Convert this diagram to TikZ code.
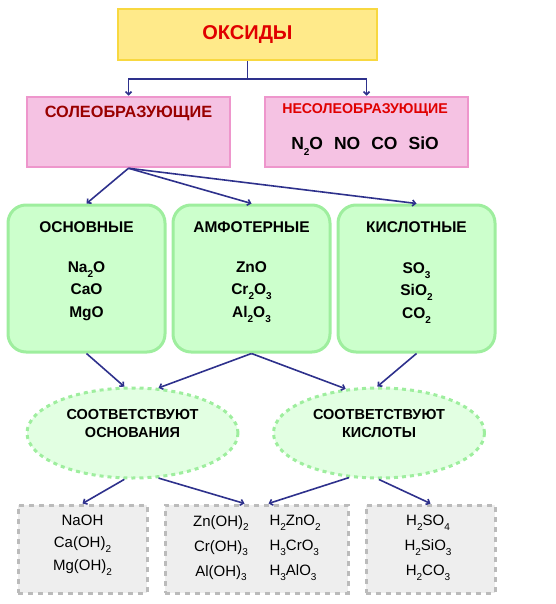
\documentclass[tikz,border=0pt]{standalone}
\usepackage{fontspec}
\setmainfont{Liberation Sans}
\usepackage{tikz}
\usetikzlibrary{arrows.meta,calc,shapes.geometric}
\usepackage{xcolor}
\definecolor{arrowblue}{HTML}{2E318C}
\definecolor{yellowbg}{HTML}{FFEA8A}
\definecolor{yellowline}{HTML}{F8D840}
\definecolor{pinkbg}{HTML}{F5C2E3}
\definecolor{pinkline}{HTML}{EE96CC}
\definecolor{greenbg}{HTML}{CCFFCC}
\definecolor{greenline}{HTML}{9EEE9E}
\definecolor{ovalbg}{HTML}{E2FFE2}
\definecolor{greybg}{HTML}{EEEEEE}
\definecolor{greyline}{HTML}{BBBBBB}
\definecolor{titlered}{HTML}{E00000}
\definecolor{darkred}{HTML}{990000}
\newcommand\ix[1]{\raisebox{-0.6ex}{\fontsize{10}{10}\selectfont #1}}

\begin{document}
\begin{tikzpicture}[x=1pt,y=-1pt,
  arr/.style={line width=1.6pt, arrowblue, -{Straight Barb[length=3pt,width=6pt]}},
  pinkbox/.style={draw=pinkline, fill=pinkbg, line width=2.5pt, minimum width=203pt, minimum height=70pt},
  greenbox/.style={draw=greenline, fill=greenbg, line width=3pt, rounded corners=18pt, minimum width=157pt, minimum height=147pt},
  oval/.style={ellipse, draw=greenline, fill=ovalbg, line width=3pt, dash pattern=on 4pt off 4pt, minimum width=211pt, minimum height=90pt},
  greybox/.style={draw=greyline, fill=greybg, line width=3pt, dash pattern=on 5pt off 5pt, minimum height=88pt},
  bold/.style={font=\bfseries\fontsize{15.5}{22.5}\selectfont, align=center},
  plain/.style={font=\fontsize{15}{25}\selectfont, align=center}]
  \useasboundingbox (0,0) rectangle (555,604);
  % верхний уровень
  \node[draw=yellowline, fill=yellowbg, line width=2.5pt, minimum width=259pt, minimum height=51pt,
        font=\bfseries\fontsize{20}{20}\selectfont, text=titlered] (oks) at (247.5,34.5) {ОКСИДЫ};
  \node[pinkbox] (sol) at (128.5,132) {};
  \node[pinkbox] (nesol) at (366.5,132) {};
  \node[font=\bfseries\fontsize{16.3}{17}\selectfont, text=darkred] (soltxt) at (128.5,113) {СОЛЕОБРАЗУЮЩИЕ};
  \node[font=\bfseries\fontsize{14.2}{16}\selectfont, text=titlered] (nesoltxt) at (365,110) {НЕСОЛЕОБРАЗУЮЩИЕ};
  \node[font=\bfseries\fontsize{17.5}{18}\selectfont] (nesolf) at (365,146)
    {N\ix2O\hspace{11pt}NO\hspace{11pt}CO\hspace{11pt}SiO};
  \coordinate (split) at ($(oks.south)+(0,18)$);
  \draw[line width=1.6pt, arrowblue] (oks.south) -- (split);
  \draw[arr] (split) -| (sol.north);
  \draw[arr] (split) -| (nesol.north);

  % три группы
  \node[greenbox] (osn) at (86.5,278.5) {};
  \node[greenbox] (amf) at (251.5,278.5) {};
  \node[greenbox] (kis) at (416.5,278.5) {};
  \node[bold, font=\bfseries\fontsize{15.5}{18}\selectfont] (osnt) at (86.5,227) {ОСНОВНЫЕ};
  \node[bold, font=\bfseries\fontsize{15.5}{18}\selectfont] (amft) at (251.5,227) {АМФОТЕРНЫЕ};
  \node[bold, font=\bfseries\fontsize{15.5}{18}\selectfont] (kist) at (416.5,227) {КИСЛОТНЫЕ};
  \node[bold] (osnf) at (86.5,291) {Na\ix2O\\CaO\\MgO};
  \node[bold] (amff) at (251.5,292) {ZnO\\Cr\ix2O\ix3\\Al\ix2O\ix3};
  \node[bold] (kisf) at (416.5,293) {SO\ix3\\SiO\ix2\\CO\ix2};
  \draw[arr] (sol.south) -- (osn.north);
  \draw[arr] (sol.south) -- (amf.north);
  \draw[arr] (sol.south) -- (kis.north);

  % основания и кислоты
  \node[oval] (osnov) at (132.5,433) {};
  \node[oval] (kisl) at (379,433) {};
  \node[font=\bfseries\fontsize{14.5}{18}\selectfont, align=center] (osnovt) at (132.5,424) {СООТВЕТСТВУЮТ\\ОСНОВАНИЯ};
  \node[font=\bfseries\fontsize{14.5}{18}\selectfont, align=center] (kislt) at (379,424) {СООТВЕТСТВУЮТ\\КИСЛОТЫ};
  \draw[arr] (osn.south) -- (osnov.100);
  \draw[arr] (amf.south) -- (osnov.60);
  \draw[arr] (amf.south) -- (kisl.127);
  \draw[arr] (kis.south) -- (kisl.92);

  % гидроксиды
  \node[greybox, minimum width=129pt] (g1) at (82.5,549) {};
  \node[greybox, minimum width=183pt] (g2) at (256.5,549) {};
  \node[greybox, minimum width=129pt] (g3) at (430.5,549) {};
  \node[plain, font=\fontsize{15}{22.5}\selectfont] (g1t) at (82.5,545) {NaOH\\Ca(OH)\ix2\\Mg(OH)\ix2};
  \node[plain] (g2a) at (221,548) {Zn(OH)\ix2\\Cr(OH)\ix3\\Al(OH)\ix3};
  \node[plain, anchor=west, align=left] (g2b) at (266,548) {H\ix2ZnO\ix2\\H\ix3CrO\ix3\\H\ix3AlO\ix3};
  \node[plain] (g3t) at (428,548) {H\ix2SO\ix4\\H\ix2SiO\ix3\\H\ix2CO\ix3};
  \draw[arr] (osnov.260) -- (g1.north);
  \draw[arr] (osnov.300) -- ($(g2.north)+(-12,0)$);
  \draw[arr] (kisl.236) -- ($(g2.north)+(12,0)$);
  \draw[arr] (kisl.270) -- (g3.north);
\end{tikzpicture}
\end{document}
